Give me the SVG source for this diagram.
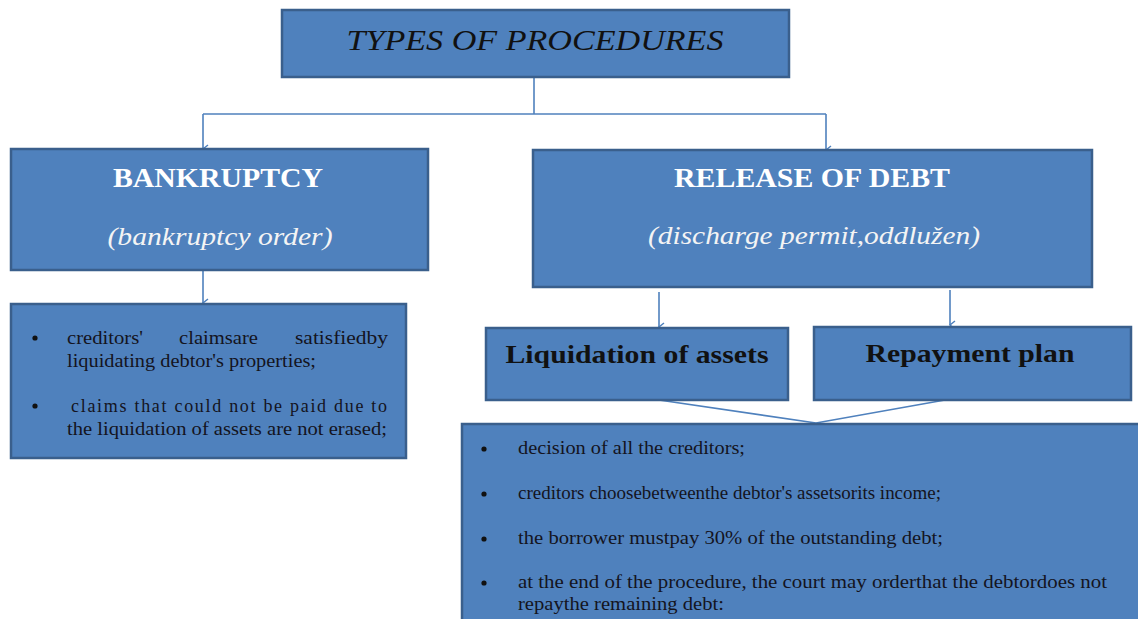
<svg xmlns="http://www.w3.org/2000/svg" width="1138" height="619" viewBox="0 0 1138 619">
<style>
.box{fill:#4F81BD;stroke:#3A5F8C;stroke-width:2.5}
.con{stroke:#4F81BD;stroke-width:1.6;fill:none}
.title{font-family:"Liberation Serif",serif;font-style:italic;font-size:30px;fill:#111}
.head{font-family:"Liberation Serif",serif;font-weight:bold;font-size:27px;fill:#fff}
.sub{font-family:"Liberation Serif",serif;font-style:italic;font-size:26px;fill:#f4f4f4}
.sec{font-family:"Liberation Serif",serif;font-weight:bold;font-size:25px;fill:#111}
.txt{font-family:"Liberation Serif",serif;font-size:18px;fill:#14141e}
</style>
<defs>
<marker id="ah" markerWidth="10" markerHeight="10" refX="5" refY="8" orient="auto-start-reverse" markerUnits="userSpaceOnUse" viewBox="0 0 10 10">
<path d="M1,3 L5,8 L9,3" fill="none" stroke="#4F81BD" stroke-width="1.5"/>
</marker>
</defs>
<g id="connectors">
<path class="con" d="M534,77 V114"/>
<path class="con" d="M203,114 H826"/>
<path class="con" d="M203,114 V149" marker-end="url(#ah)"/>
<path class="con" d="M826,114 V150" marker-end="url(#ah)"/>
<path class="con" d="M203,270 V303" marker-end="url(#ah)"/>
<path class="con" d="M659,292 V327" marker-end="url(#ah)"/>
<path class="con" d="M950,290 V325" marker-end="url(#ah)"/>
<path class="con" d="M659,400 L816,423 L945,400"/>
</g>
<g id="types">
<rect class="box" x="282" y="10" width="507" height="67"/>
<text class="title" x="535" y="50" text-anchor="middle" textLength="377" lengthAdjust="spacingAndGlyphs">TYPES OF PROCEDURES</text>
</g>
<g id="bankruptcy">
<rect class="box" x="11" y="149" width="417" height="121"/>
<text class="head" x="218" y="187" text-anchor="middle" textLength="210" lengthAdjust="spacingAndGlyphs">BANKRUPTCY</text>
<text class="sub" x="220" y="245" text-anchor="middle" textLength="225" lengthAdjust="spacingAndGlyphs">(bankruptcy order)</text>
</g>
<g id="bankruptcy-details">
<rect class="box" x="11" y="304" width="395" height="154"/>
<circle cx="35" cy="338" r="2.6" fill="#111"/>
<text class="txt" x="67" y="344" textLength="76" lengthAdjust="spacingAndGlyphs">creditors'</text>
<text class="txt" x="179" y="344" textLength="79" lengthAdjust="spacingAndGlyphs">claimsare</text>
<text class="txt" x="295" y="344" textLength="93" lengthAdjust="spacingAndGlyphs">satisfiedby</text>
<text class="txt" x="67" y="367" textLength="249" lengthAdjust="spacingAndGlyphs">liquidating debtor's properties;</text>
<circle cx="35" cy="406" r="2.6" fill="#111"/>
<text class="txt" x="71" y="412" textLength="316" lengthAdjust="spacing">claims that could not be paid due to</text>
<text class="txt" x="67" y="435" textLength="320" lengthAdjust="spacingAndGlyphs">the liquidation of assets are not erased;</text>
</g>
<g id="release">
<rect class="box" x="533" y="150" width="559" height="137"/>
<text class="head" x="812" y="187" text-anchor="middle" textLength="276" lengthAdjust="spacingAndGlyphs">RELEASE OF DEBT</text>
<text class="sub" x="814" y="244" text-anchor="middle" textLength="332" lengthAdjust="spacingAndGlyphs">(discharge permit,oddlužen)</text>
</g>
<g id="liquidation">
<rect class="box" x="486" y="328" width="302" height="72"/>
<text class="sec" x="637" y="363" text-anchor="middle" textLength="263" lengthAdjust="spacingAndGlyphs">Liquidation of assets</text>
</g>
<g id="repayment">
<rect class="box" x="814" y="327" width="317" height="73"/>
<text class="sec" x="970" y="362" text-anchor="middle" textLength="209" lengthAdjust="spacingAndGlyphs">Repayment plan</text>
</g>
<g id="release-details">
<rect class="box" x="462" y="424" width="690" height="210"/>
<circle cx="484" cy="449" r="2.6" fill="#111"/>
<text class="txt" x="518" y="454" textLength="227" lengthAdjust="spacingAndGlyphs">decision of all the creditors;</text>
<circle cx="484" cy="494" r="2.6" fill="#111"/>
<text class="txt" x="518" y="499" textLength="423" lengthAdjust="spacingAndGlyphs">creditors choosebetweenthe debtor's assetsorits income;</text>
<circle cx="484" cy="539" r="2.6" fill="#111"/>
<text class="txt" x="518" y="544" textLength="425" lengthAdjust="spacingAndGlyphs">the borrower mustpay 30% of the outstanding debt;</text>
<circle cx="484" cy="583" r="2.6" fill="#111"/>
<text class="txt" x="518" y="588" textLength="589" lengthAdjust="spacingAndGlyphs">at the end of the  procedure, the court may orderthat the debtordoes not</text>
<text class="txt" x="518" y="610" textLength="206" lengthAdjust="spacingAndGlyphs">repaythe remaining debt:</text>
</g>
</svg>
